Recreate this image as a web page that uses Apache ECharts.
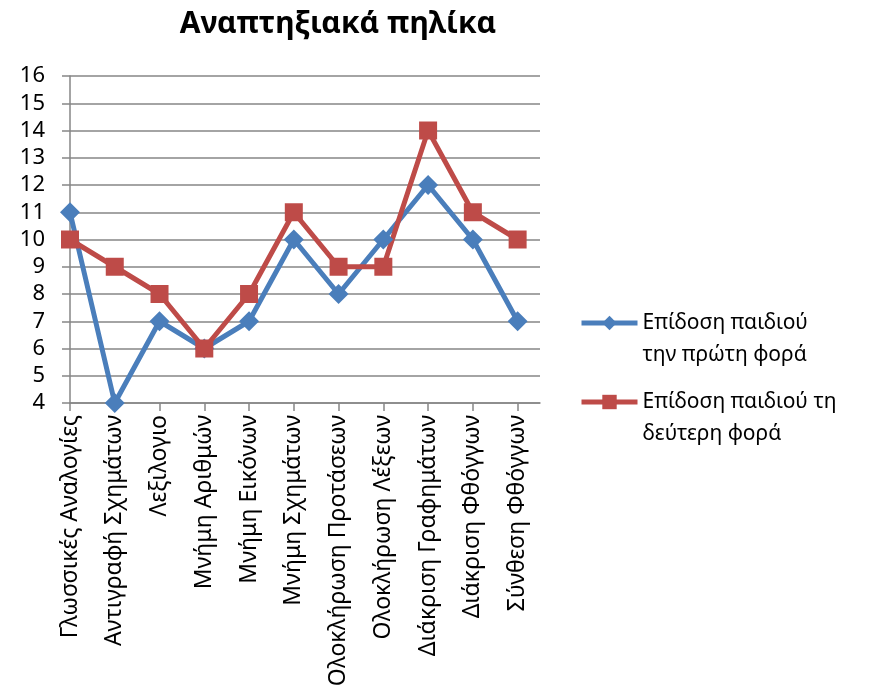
<!DOCTYPE html>
<html>
<head>
<meta charset="utf-8">
<script src="https://cdn.jsdelivr.net/npm/echarts@6/dist/echarts.min.js"></script>
<style>
  html, body { margin: 0; padding: 0; background: #fff; }
  #chart { width: 870px; height: 697px; }
</style>
</head>
<body>
<div id="chart"></div>
<script>
// κατηγορίες του άξονα x
const categories = [
  'Γλωσσικές Αναλογίες', 'Αντιγραφή Σχημάτων', 'Λεξιλογιο', 'Μνήμη Αριθμών',
  'Μνήμη Εικόνων', 'Μνήμη Σχημάτων', 'Ολοκλήρωση Προτάσεων', 'Ολοκλήρωση Λέξεων',
  'Διάκριση Γραφημάτων', 'Διάκριση Φθόγγων', 'Σύνθεση Φθόγγων'
]
const firstTime = [11, 4, 7, 6, 7, 10, 8, 10, 12, 10, 7]
const secondTime = [10, 9, 8, 6, 8, 11, 9, 9, 14, 11, 10]
const seriesNames = ['Επίδοση παιδιού\nτην πρώτη φορά', 'Επίδοση παιδιού τη\nδεύτερη φορά']

const font = 'Noto Sans'
const tickIdx = categories.map((c, i) => i)
const toPairs = arr => arr.map((v, i) => [i, v])

// ένα legend για κάθε σειρά ώστε το εικονίδιο να στοιχίζεται με την πρώτη γραμμή
const makeLegend = (name, top) => ({
  data: [name],
  orient: 'vertical',
  left: 579,
  top: top,
  padding: 0,
  itemWidth: 56,
  itemHeight: 18,
  lineStyle: { width: 5 },
  formatter: n => '\n' + n,
  textStyle: { fontFamily: font, fontSize: 21, color: '#000', lineHeight: 32 }
})

const myChart = echarts.init(document.getElementById('chart'))
myChart.setOption({
  animation: false,
  title: {
    text: 'Αναπτηξιακά πηλίκα',
    left: 333,
    textAlign: 'center',
    top: 4,
    textStyle: { fontFamily: font, fontSize: 30, fontWeight: 'bold', color: '#000' }
  },
  legend: [
    makeLegend(seriesNames[0], 323 - 48),
    makeLegend(seriesNames[1], 402 - 48)
  ],
  grid: { left: 70, right: 330, top: 76, bottom: 294 },
  xAxis: {
    type: 'value',
    min: 0,
    max: 10.5,
    interval: 1,
    splitLine: { show: false },
    axisLine: { show: true, lineStyle: { color: '#868686', width: 1.5 } },
    axisTick: { show: true, customValues: tickIdx, length: 8, lineStyle: { color: '#868686', width: 1.5 } },
    axisLabel: {
      customValues: tickIdx,
      rotate: 90,
      margin: 12,
      formatter: v => categories[v] || '',
      fontFamily: font, fontSize: 23, color: '#000'
    }
  },
  yAxis: {
    type: 'value',
    min: 4,
    max: 16,
    interval: 1,
    axisLine: { show: true, lineStyle: { color: '#868686', width: 1.5 } },
    axisTick: { show: true, length: 8, lineStyle: { color: '#868686', width: 1.5 } },
    splitLine: { lineStyle: { color: '#868686', width: 1.5 } },
    axisLabel: { margin: 25, fontFamily: font, fontSize: 22, color: '#000' }
  },
  series: [
    {
      name: seriesNames[0],
      type: 'line',
      data: toPairs(firstTime),
      symbol: 'diamond',
      symbolSize: 20,
      color: '#4A7EBB',
      lineStyle: { width: 5, color: '#4A7EBB' },
      itemStyle: { color: '#4A7EBB' }
    },
    {
      name: seriesNames[1],
      type: 'line',
      data: toPairs(secondTime),
      symbol: 'rect',
      symbolSize: 18,
      color: '#BE4B48',
      lineStyle: { width: 5, color: '#BE4B48' },
      itemStyle: { color: '#BE4B48' }
    }
  ]
})
</script>
</body>
</html>
